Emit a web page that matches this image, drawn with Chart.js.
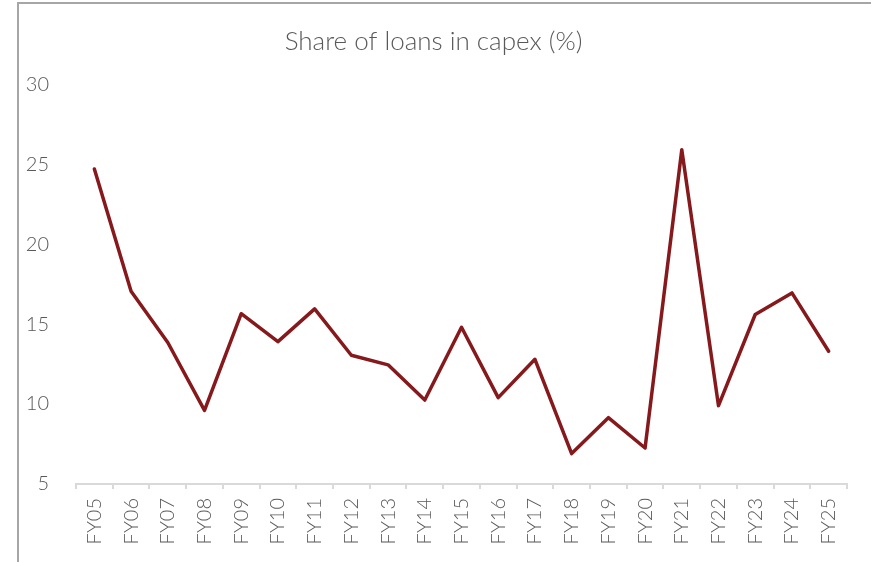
<!DOCTYPE html>
<html>
<head>
<meta charset="utf-8">
<script src="https://cdn.jsdelivr.net/npm/chart.js@4.4.1/dist/chart.umd.min.js"></script>
<style>
  html, body { margin: 0; padding: 0; background: #fff; }
  #frame {
    position: absolute; left: 17px; top: 2px; right: 0; bottom: 0;
    border-left: 2px solid #a6a6a6; border-top: 2px solid #a6a6a6;
  }
  #wrap { position: absolute; left: 0; top: 0; width: 871px; height: 562px; }
</style>
</head>
<body>
<div id="frame"></div>
<div id="wrap"><canvas id="loanChart" width="871" height="562"></canvas></div>
<script>
// Anos fiscais e participação dos empréstimos no capex (%)
const years = ['FY05', 'FY06', 'FY07', 'FY08', 'FY09', 'FY10', 'FY11', 'FY12', 'FY13', 'FY14', 'FY15',
               'FY16', 'FY17', 'FY18', 'FY19', 'FY20', 'FY21', 'FY22', 'FY23', 'FY24', 'FY25'];
const loanShare = [24.7, 17.05, 13.85, 9.6, 15.65, 13.9, 15.95, 13.05, 12.45, 10.25, 14.8,
                   10.4, 12.8, 6.9, 9.15, 7.25, 25.9, 9.9, 15.6, 16.95, 13.3];
const yTicks = [5, 10, 15, 20, 25, 30];

const textColor = '#595959';
const fontFamily = 'Lato, "Open Sans", sans-serif';

const ctx = document.getElementById('loanChart').getContext('2d');

new Chart(ctx, {
  type: 'line',
  data: {
    labels: years,
    datasets: [{
      label: 'Share of loans in capex (%)',
      data: loanShare,
      borderColor: '#86191b',
      borderWidth: 3.5,
      borderJoinStyle: 'round',
      borderCapStyle: 'round',
      pointRadius: 0,
      tension: 0,
      fill: false
    }]
  },
  options: {
    responsive: false,
    animation: false,
    layout: { padding: { left: 20, right: 24, top: 0, bottom: 0 } },
    plugins: {
      legend: { display: false },
      tooltip: { enabled: false },
      title: {
        display: true,
        text: 'Share of loans in capex (%)',
        color: textColor,
        font: { family: fontFamily, size: 26, weight: 300 },
        padding: { top: 26, bottom: 27 }
      }
    },
    scales: {
      x: {
        offset: true,
        grid: {
          offset: true,
          drawOnChartArea: false,
          drawTicks: true,
          tickLength: 5,
          color: '#d9d9d9',
          lineWidth: 2
        },
        border: { display: true, color: '#d9d9d9', width: 2 },
        ticks: {
          color: textColor,
          font: { family: fontFamily, size: 20, weight: 300 },
          minRotation: 90,
          maxRotation: 90,
          autoSkip: false,
          padding: 9
        },
        afterFit: scale => { scale.height = 78; }
      },
      y: {
        min: 5,
        max: 30,
        grid: { display: false },
        border: { display: false },
        afterBuildTicks: scale => { scale.ticks = yTicks.map(v => ({ value: v })); },
        ticks: {
          color: textColor,
          font: { family: fontFamily, size: 20, weight: 300 },
          padding: 19
        },
        afterFit: scale => { scale.width = 56; }
      }
    }
  }
});
</script>
</body>
</html>
